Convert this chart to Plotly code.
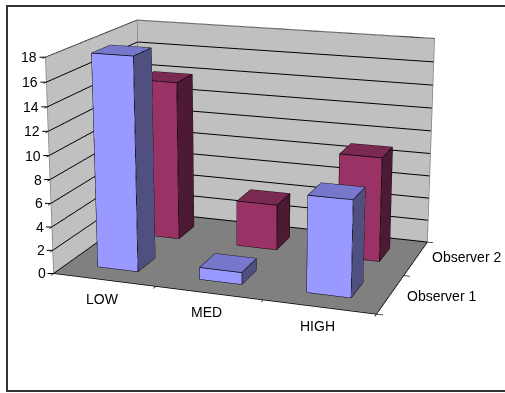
import plotly.graph_objects as go

categories = ["LOW", "MED", "HIGH"]
series_names = ["Observer 1", "Observer 2"]
observer_1 = [18, 1, 8]
observer_2 = [14, 4, 9]
z_ticks = list(range(0, 20, 2))

# The window shows the middle of a larger figure: Plotly's 3D field of view is
# fixed, and the reference has a much narrower one.
K = 3
WIN_W, WIN_H = 505, 393
FIG_W, FIG_H = WIN_W * K, WIN_H * K
OFF_X, OFF_Y = 511, 435
FONT = dict(family="Liberation Sans, Arial, sans-serif", size=14, color="#000000")
BAR = 0.4
SERIES_LABEL_SHIFT = [-2, 1]


def fx(p):
    return (p + OFF_X) / FIG_W


def fy(p):
    return 1 - (p + OFF_Y) / FIG_H


def bar_mesh(values, slot, front, top, side, name):
    xs, ys, zs, i, j, k, colors = [], [], [], [], [], [], []
    lx, ly, lz = [], [], []
    y0, y1 = slot + (1 - BAR) / 2, slot + (1 + BAR) / 2
    for c, v in enumerate(values):
        x0, x1 = c + (1 - BAR) / 2, c + (1 + BAR) / 2
        b = len(xs)
        xs += [x0, x1, x1, x0, x0, x1, x1, x0]
        ys += [y0, y0, y1, y1, y0, y0, y1, y1]
        zs += [0, 0, 0, 0, v, v, v, v]
        quads = [((0, 1, 5, 4), front), ((4, 5, 6, 7), top), ((1, 2, 6, 5), side),
                 ((3, 2, 6, 7), front), ((0, 3, 7, 4), side), ((0, 1, 2, 3), side)]
        for (p, q, r, s), col in quads:
            i += [b + p, b + p]
            j += [b + q, b + r]
            k += [b + r, b + s]
            colors += [col, col]
        for p, q in [(0, 1), (1, 2), (4, 5), (5, 6), (6, 7), (7, 4), (0, 4), (1, 5), (2, 6), (3, 7), (2, 3), (3, 0)]:
            lx += [xs[b + p], xs[b + q], None]
            ly += [ys[b + p], ys[b + q], None]
            lz += [zs[b + p], zs[b + q], None]
    mesh = go.Mesh3d(x=xs, y=ys, z=zs, i=i, j=j, k=k, facecolor=colors, flatshading=True,
                     lighting=dict(ambient=1, diffuse=0, specular=0, roughness=1, fresnel=0),
                     hoverinfo="skip", name=name, showscale=False)
    edges = go.Scatter3d(x=lx, y=ly, z=lz, mode="lines", line=dict(color="#000000", width=1.5),
                         hoverinfo="skip", showlegend=False)
    return [mesh, edges]


nx, ny, zmax = len(categories), len(series_names), max(z_ticks)
frame = go.Scatter3d(
    x=[0, 0, None, 0, 0, nx, nx, None, 0, 0, None, 0, nx],
    y=[0, 0, None, 0, ny, ny, ny, None, ny, ny, None, 0, 0],
    z=[0, zmax, None, zmax, zmax, zmax, 0, None, 0, zmax, None, 0, 0],
    mode="lines", line=dict(color="#808080", width=1.5), hoverinfo="skip", showlegend=False)
floor_edges = go.Scatter3d(
    x=[0, nx, nx], y=[0, 0, ny], z=[0, 0, 0], mode="lines",
    line=dict(color="#000000", width=1.5), hoverinfo="skip", showlegend=False)

traces = [frame, floor_edges]
traces += bar_mesh(observer_2, 1, "#993366", "#7A2952", "#4D1A33", series_names[1])
traces += bar_mesh(observer_1, 0, "#9999FF", "#7777CC", "#4F4F80", series_names[0])
fig = go.Figure(traces)

annotations = []
for t in z_ticks:
    # the arrow between a label and its point is the value axis tick
    annotations.append(dict(x=0, y=0, z=t, text=str(t), showarrow=True, arrowhead=0, arrowwidth=1,
                            arrowcolor="#000000", ax=-6, ay=0, xanchor="right", yanchor="middle",
                            font=FONT))
for c, name in enumerate(categories):
    annotations.append(dict(x=c + 0.5, y=0, z=0, text=name, showarrow=False, xanchor="center",
                            yanchor="middle", xshift=-2, yshift=-19, font=FONT))
for s, name in enumerate(series_names):
    annotations.append(dict(x=nx, y=s + 0.5, z=0, text=name, showarrow=False, xanchor="left",
                            yanchor="middle", xshift=14, yshift=SERIES_LABEL_SHIFT[s], font=FONT))

common = dict(title="", showticklabels=False, showspikes=False, zeroline=False,
              tickcolor="#000000", ticks="outside", ticklen=5, tickwidth=1.5)
fig.update_layout(
    width=FIG_W, height=FIG_H, margin=dict(l=0, r=0, t=0, b=0), showlegend=False,
    paper_bgcolor="#ffffff", hovermode=False,
    shapes=[dict(type="rect", xref="paper", yref="paper", x0=fx(7), x1=fx(520), y0=fy(6), y1=fy(391),
                 line=dict(color="#333333", width=2), fillcolor="rgba(0,0,0,0)")],
    scene=dict(
        domain=dict(x=[0, 1], y=[0, 1]), aspectmode="manual",
        aspectratio=dict(x=1.5077, y=0.9978, z=1),
        camera=dict(eye=dict(x=2.0887, y=-5.9633, z=1.7214), center=dict(x=0, y=0, z=0),
                    up=dict(x=-0.0009, y=-0.0109, z=1), projection=dict(type="perspective")),
        bgcolor="rgba(0,0,0,0)", annotations=annotations,
        xaxis=dict(range=[0, nx], dtick=1, tick0=0, showgrid=False, showline=False,
                   showbackground=True, backgroundcolor="#C0C0C0", **common),
        yaxis=dict(range=[0, ny], dtick=1, tick0=0, showgrid=False, showline=False,
                   showbackground=True, backgroundcolor="#C0C0C0", **common),
        zaxis=dict(range=[0, zmax], dtick=2, tick0=0, showgrid=True, gridcolor="#000000", gridwidth=2,
                   showline=False, showbackground=True, backgroundcolor="#808080", **common),
    ),
)

post = f"""
document.documentElement.style.overflow='hidden';
document.body.style.overflow='hidden';
document.body.style.margin='0';
var g=document.querySelector('.plotly-graph-div');
g.style.position='absolute';g.style.left='-{OFF_X}px';g.style.top='-{OFF_Y}px';
"""
fig.write_html("out.html", config=dict(displayModeBar=False), post_script=post)
